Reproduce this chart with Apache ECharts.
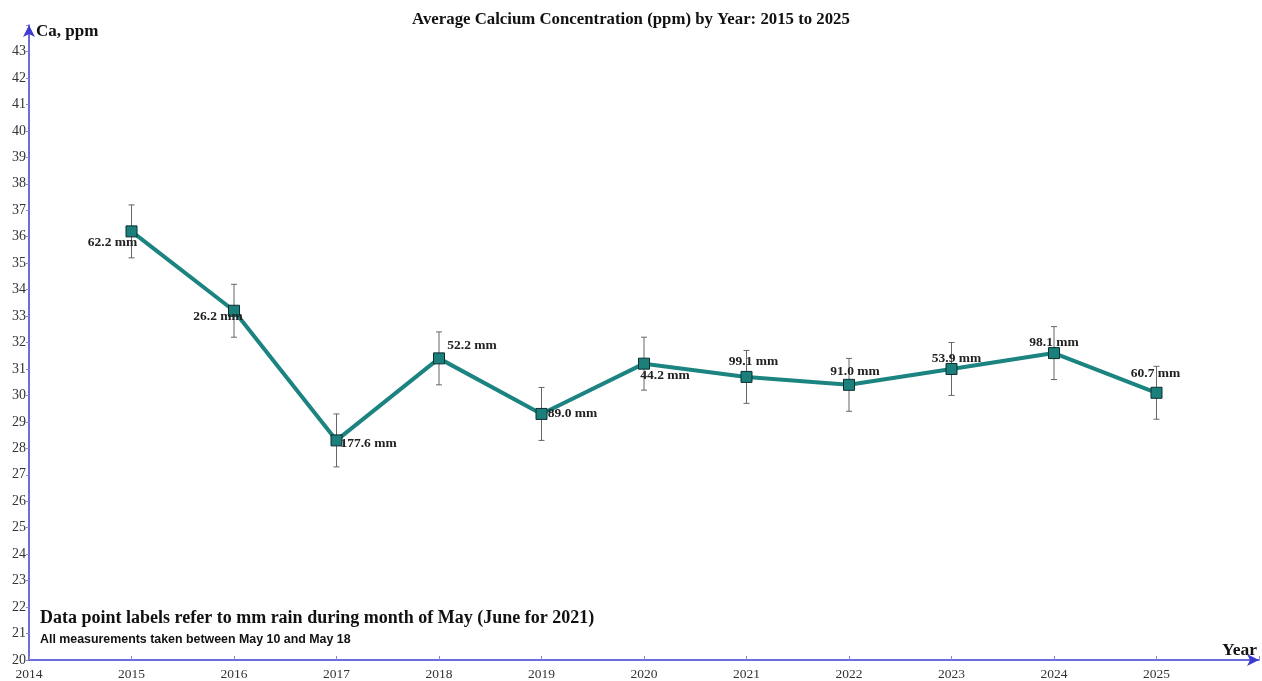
<!DOCTYPE html>
<html><head><meta charset="utf-8">
<script src="https://cdn.jsdelivr.net/npm/echarts@6/dist/echarts.min.js"></script>
<style>html,body{margin:0;padding:0;background:#fff}#c{width:1262px;height:681px}</style>
</head><body><div id="c"></div>
<script>
const years = [2015,2016,2017,2018,2019,2020,2021,2022,2023,2024,2025];
const calcium = [36.2,33.2,28.3,31.4,29.3,31.2,30.7,30.4,31.0,31.6,30.1];
const errLow = [35.2,32.2,27.3,30.4,28.3,30.2,29.7,29.4,30.0,30.6,29.1];
const errHigh = [37.2,34.2,29.3,32.4,30.3,32.2,31.7,31.4,32.0,32.6,31.1];
const rainLabels = ['62.2 mm','26.2 mm','177.6 mm','52.2 mm','89.0 mm','44.2 mm','99.1 mm','91.0 mm','53.9 mm','98.1 mm','60.7 mm'];
const title = 'Average Calcium Concentration (ppm) by Year: 2015 to 2025';
const note1 = 'Data point labels refer to mm rain during month of May (June for 2021)';
const note2 = 'All measurements taken between May 10 and May 18';

// label offsets (style only)
const labelOffsets = [[-19,11],[-16,6],[32,3],[33,-13],[31,0],[21,12],[7,-15],[6,-13],[5,-10],[0,-11],[-1,-19]];

const axisBlue = '#3c3ccf';
const chart = echarts.init(document.getElementById('c'));
chart.setOption({
  animation:false,
  backgroundColor:'#fff',
  title:{text:title,left:'center',top:6,textStyle:{fontFamily:'Liberation Serif',fontWeight:'bold',fontSize:16.8,color:'#111'}},
  grid:{left:29,right:2,top:25,bottom:19,containLabel:false},
  xAxis:{type:'value',min:2014,max:2026,interval:1,
    name:'Year',nameLocation:'end',nameGap:-2,
    nameTextStyle:{fontFamily:'Liberation Serif',fontWeight:'bold',fontSize:17.5,color:'#111',align:'right',verticalAlign:'bottom',padding:[0,0,1,0]},
    axisLine:{lineStyle:{color:axisBlue,width:1.5},symbol:['none','arrow'],symbolSize:[9,12]},
    axisTick:{inside:true,length:4,lineStyle:{color:'#8888cc'}},
    splitLine:{show:false},
    axisLabel:{margin:7,fontFamily:'Liberation Serif',fontSize:13.5,color:'#333',formatter:v=>v>=2026?'':String(v)}
  },
  yAxis:{type:'value',min:20,max:44,interval:1,
    name:'Ca, ppm',nameLocation:'end',nameGap:-7,
    nameTextStyle:{fontFamily:'Liberation Serif',fontWeight:'bold',fontSize:17,color:'#111',align:'left',verticalAlign:'middle',padding:[0,0,0,7]},
    axisLine:{lineStyle:{color:axisBlue,width:1.5},symbol:['none','arrow'],symbolSize:[9,12]},
    axisTick:{length:3,lineStyle:{color:'#8888cc'}},
    splitLine:{show:false},
    axisLabel:{margin:3,fontFamily:'Liberation Serif',fontSize:14,color:'#333',formatter:v=>v>=44?'':String(v)}
  },
  graphic:[
    {type:'text',left:40,top:609,style:{text:note1,fontFamily:'Liberation Serif',fontWeight:'bold',fontSize:18,fill:'#111'}},
    {type:'text',left:40,top:634,style:{text:note2,fontFamily:'Liberation Sans',fontWeight:'bold',fontSize:12.4,fill:'#111'}}
  ],
  series:[
    {type:'custom',name:'err',z:1,
     data:years.map((y,i)=>[y,errLow[i],errHigh[i]]),
     renderItem:(params,api)=>{
       const lo=api.coord([api.value(0),api.value(1)]);
       const hi=api.coord([api.value(0),api.value(2)]);
       const w=3;
       const st={stroke:'#666',lineWidth:1};
       return {type:'group',children:[
         {type:'line',shape:{x1:hi[0],y1:hi[1],x2:lo[0],y2:lo[1]},style:st},
         {type:'line',shape:{x1:hi[0]-w,y1:hi[1],x2:hi[0]+w,y2:hi[1]},style:st},
         {type:'line',shape:{x1:lo[0]-w,y1:lo[1],x2:lo[0]+w,y2:lo[1]},style:st}
       ]};
     }},
    {type:'line',z:3,
     data:years.map((y,i)=>({value:[y,calcium[i]],label:{offset:labelOffsets[i]}})),
     symbol:'rect',symbolSize:11,
     itemStyle:{color:'#1b7f7c',borderColor:'#0b2f2f',borderWidth:1},
     lineStyle:{color:'#1b8480',width:4},
     label:{show:true,position:'inside',formatter:p=>rainLabels[p.dataIndex],
       fontFamily:'Liberation Serif',fontWeight:'bold',fontSize:13.5,color:'#222'}
    }
  ]
});
</script></body></html>
